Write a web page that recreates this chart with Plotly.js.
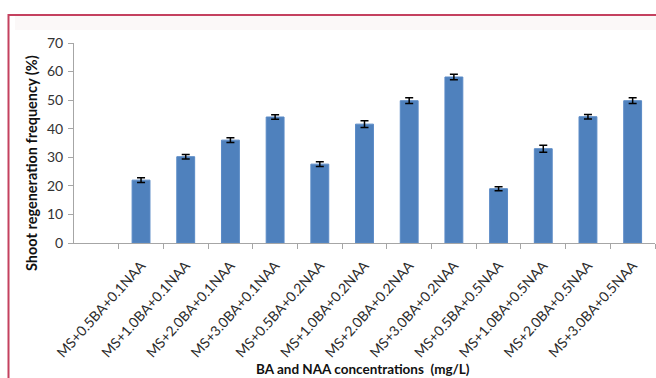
<!DOCTYPE html>
<html>
<head>
<meta charset="utf-8">
<script src="https://cdn.plot.ly/plotly-3.0.1.min.js"></script>
<style>html,body{margin:0;padding:0;background:#fff;}#chart{width:656px;height:378px;}</style>
</head>
<body>
<div id="chart"></div>
<script>
const categories = [
  "MS+0.5BA+0.1NAA", "MS+1.0BA+0.1NAA", "MS+2.0BA+0.1NAA", "MS+3.0BA+0.1NAA",
  "MS+0.5BA+0.2NAA", "MS+1.0BA+0.2NAA", "MS+2.0BA+0.2NAA", "MS+3.0BA+0.2NAA",
  "MS+0.5BA+0.5NAA", "MS+1.0BA+0.5NAA", "MS+2.0BA+0.5NAA", "MS+3.0BA+0.5NAA"
];
const frequency = [22.0, 30.2, 36.0, 44.1, 27.6, 41.6, 49.8, 58.1, 19.0, 33.0, 44.2, 49.8];
const errors = [0.8, 0.8, 0.8, 0.8, 0.8, 1.2, 1.0, 1.0, 0.7, 1.2, 0.8, 1.0];
const yTicks = [0, 10, 20, 30, 40, 50, 60, 70];
const xTitle = "BA and NAA concentrations  (mg/L)";
const yTitle = "Shoot regeneration frequency (%)";

const L = 74, R = 1, T = 43, B = 135, W = 656, H = 378;
const pw = W - L - R, ph = H - T - B;
const px = x => (x - L) / pw;
const py = y => (H - B - y) / ph;

const trace = {
  type: 'bar',
  x: categories,
  y: frequency,
  marker: {color: '#4f81bd', line: {color: '#5a8ac6', width: 1}},
  error_y: {type: 'data', array: errors, visible: true, color: '#000', thickness: 1.5, width: 4},
  hoverinfo: 'x+y'
};

const layout = {
  width: W, height: H,
  margin: {l: L, r: R, t: T, b: B},
  paper_bgcolor: '#ffffff',
  plot_bgcolor: '#ffffff',
  bargap: 0.6,
  showlegend: false,
  font: {family: 'Lato, "Open Sans", sans-serif', color: '#404040'},
  xaxis: {
    type: 'category',
    range: [-1.5, categories.length - 0.5],
    tickson: 'boundaries',
    ticks: 'outside', ticklen: 5, tickcolor: '#a6a6a6',
    showline: true, linecolor: '#a6a6a6', linewidth: 1,
    showgrid: false, zeroline: false,
    tickangle: -48,
    ticklabelstandoff: 8,
    tickfont: {size: 14, color: '#2a2a2a'},
    automargin: false
  },
  yaxis: {
    range: [0, 70],
    tickvals: yTicks,
    ticks: 'outside', ticklen: 5, tickcolor: '#a6a6a6',
    showline: true, linecolor: '#a6a6a6', linewidth: 1,
    showgrid: false, zeroline: false,
    ticklabelstandoff: 2,
    tickfont: {size: 14, color: '#333'},
    automargin: false
  },
  annotations: [
    {text: '<b>' + yTitle + '</b>', xref: 'paper', yref: 'paper', x: px(31), y: py(163),
     textangle: -90, showarrow: false, font: {size: 14.5, color: '#111'}, xanchor: 'center', yanchor: 'middle'},
    {text: '<b>' + xTitle + '</b>', xref: 'paper', yref: 'paper', x: px(363), y: py(369),
     showarrow: false, font: {size: 13.5, color: '#111'}, xanchor: 'center', yanchor: 'middle'}
  ],
  shapes: [
    {type: 'rect', xref: 'paper', yref: 'paper', x0: px(15), x1: px(657), y0: py(30), y1: py(16),
     fillcolor: '#fbf8f8', line: {width: 0}, layer: 'below'},
    {type: 'path', xref: 'paper', yref: 'paper',
     path: 'M ' + px(8.5) + ' ' + py(379) + ' L ' + px(8.5) + ' ' + py(15) + ' L ' + px(660) + ' ' + py(15),
     line: {color: '#c4415f', width: 2}}
  ]
};

Plotly.newPlot('chart', [trace], layout, {displayModeBar: false, staticPlot: true});
</script>
</body>
</html>
